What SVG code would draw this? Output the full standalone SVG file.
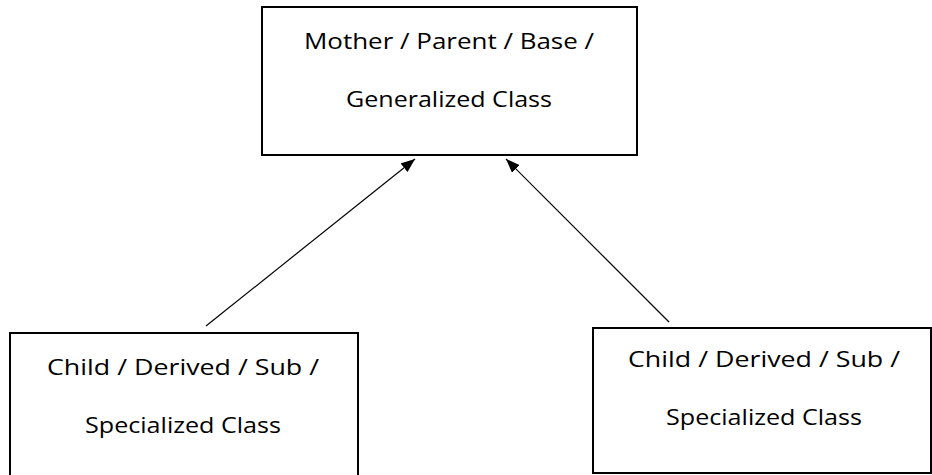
<svg xmlns="http://www.w3.org/2000/svg" width="932" height="475" viewBox="0 0 932 475">
<style>
.box{fill:#fff;stroke:#000;stroke-width:2}
.lbl{font-family:"Open Sans","Liberation Sans",sans-serif;font-size:22px;fill:#000;text-anchor:middle}
.conn{stroke:#000;stroke-width:1.2;fill:none}
</style>
<defs>
<marker id="arr" viewBox="0 0 14 11" refX="14" refY="5.5" markerWidth="14" markerHeight="11" markerUnits="userSpaceOnUse" orient="auto">
<path d="M0,0 L14,5.5 L0,11 z" fill="#000"/>
</marker>
</defs>
<rect width="932" height="475" fill="#fff"/>
<g id="parent">
<rect class="box" x="262" y="7" width="375" height="148"/>
<text class="lbl" x="449" y="49" textLength="290" lengthAdjust="spacingAndGlyphs">Mother / Parent / Base /</text>
<text class="lbl" x="449" y="107" textLength="206" lengthAdjust="spacingAndGlyphs">Generalized Class</text>
</g>
<g id="child-left">
<rect class="box" x="10" y="333" width="348" height="150"/>
<text class="lbl" x="183" y="375" textLength="272" lengthAdjust="spacingAndGlyphs">Child / Derived / Sub /</text>
<text class="lbl" x="183" y="433" textLength="196" lengthAdjust="spacingAndGlyphs">Specialized Class</text>
</g>
<g id="child-right">
<rect class="box" x="593" y="328" width="338" height="145"/>
<text class="lbl" x="764" y="367" textLength="272" lengthAdjust="spacingAndGlyphs">Child / Derived / Sub /</text>
<text class="lbl" x="764" y="425" textLength="196" lengthAdjust="spacingAndGlyphs">Specialized Class</text>
</g>
<g id="connectors">
<line class="conn" x1="206" y1="326" x2="415" y2="159" marker-end="url(#arr)"/>
<line class="conn" x1="669" y1="322" x2="506" y2="159" marker-end="url(#arr)"/>
</g>
</svg>
